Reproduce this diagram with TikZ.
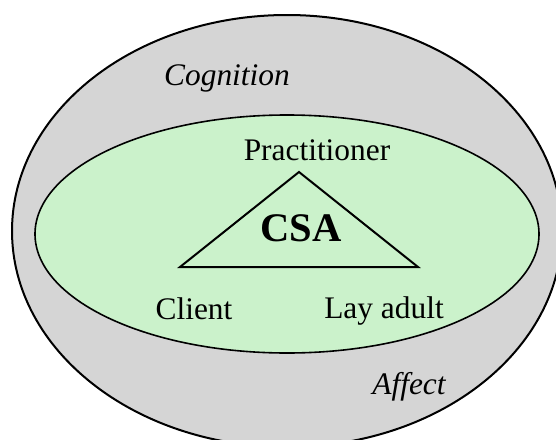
\documentclass[tikz,border=0pt]{standalone}
\usepackage{fontspec}
\setmainfont{Liberation Serif}
\usepackage{tikz}
\usetikzlibrary{positioning}
\definecolor{ringgray}{HTML}{D5D5D5}
\definecolor{innergreen}{HTML}{CBF2CB}
\tikzset{
  rolelabel/.style={font=\fontsize{15.7}{19}\selectfont, inner sep=0pt},
  aspectlabel/.style={font=\fontsize{15.7}{19}\selectfont\itshape, inner sep=0pt},
  corelabel/.style={font=\fontsize{20.3}{24}\selectfont\bfseries, inner sep=0pt}
}
\begin{document}
\begin{tikzpicture}[x=0.5pt,y=-0.5pt]
%Rahmen wie im Original: 556 x 439
  \useasboundingbox (0,0) rectangle (556,439);
  \clip (0,0) rectangle (556,439);
%aeussere und innere Ellipse
  \draw[line width=1pt,fill=ringgray] (287,231) ellipse [x radius=275, y radius=216];
  \draw[line width=0.8pt,fill=innergreen] (287,234) ellipse [x radius=252, y radius=119];
%Dreieck
  \coordinate (apex) at (299,172);
  \coordinate (left) at (180,267);
  \coordinate (right) at (418,267);
  \draw[line width=1pt,line join=miter] (apex) -- (left) -- (right) -- cycle;
%Beschriftungen
  \node[corelabel] (csa) at (301,228) {CSA};
  \node[rolelabel] (practitioner) at (317,150) {Practitioner};
  \node[rolelabel] (client) at (194,309) {Client};
  \node[rolelabel] (layadult) at (384,311) {Lay adult};
  \node[aspectlabel] (cognition) at (227,78) {Cognition};
  \node[aspectlabel] (affect) at (409,387) {Affect};
\end{tikzpicture}
\end{document}
